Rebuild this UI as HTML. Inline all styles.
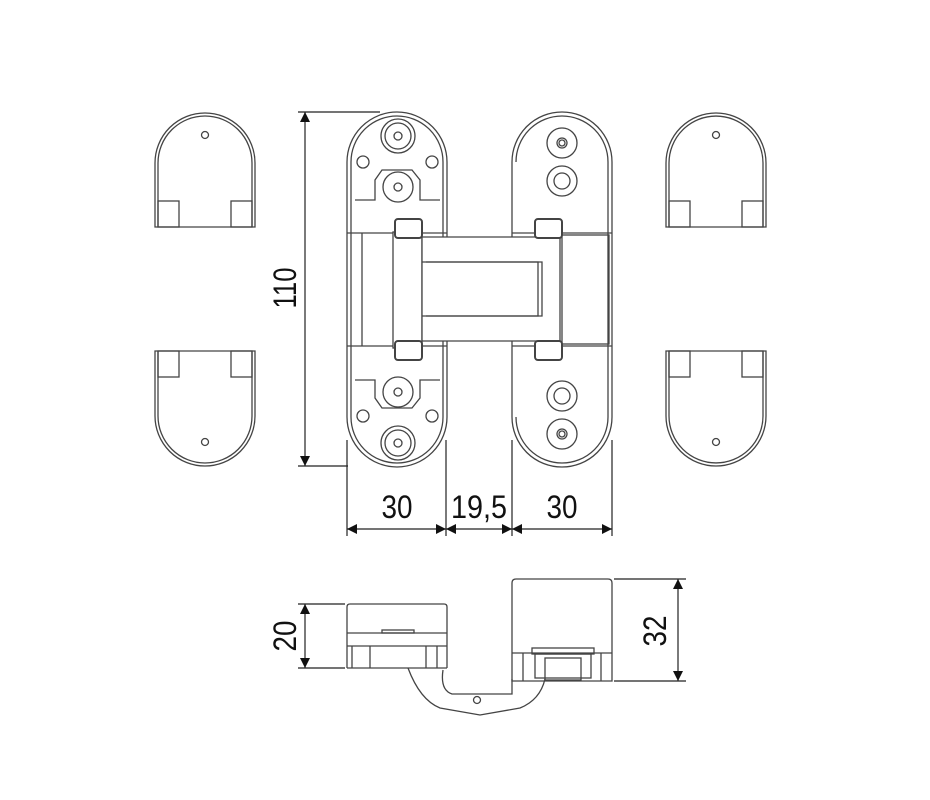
<!DOCTYPE html>
<html><head><meta charset="utf-8"><style>html,body{margin:0;padding:0;background:#fff}svg{display:block}</style></head>
<body>
<svg width="930" height="800" viewBox="0 0 930 800" xmlns="http://www.w3.org/2000/svg" font-family="Liberation Sans, sans-serif">
<defs>
<marker id="ar" viewBox="0 0 10 10" refX="10" refY="5" markerWidth="14" markerHeight="10" markerUnits="userSpaceOnUse" orient="auto-start-reverse"><path d="M0,0 L10,5 L0,10 z" fill="#111"/></marker>
</defs>
<g fill="none" stroke="#444" stroke-width="1.3">
<!-- caps left -->
<path d="M155,227 V163 A50,50 0 0 1 255,163 V227 Z"/>
<path d="M158,227 V163 A47,47 0 0 1 252,163 V227"/>
<rect x="158" y="201" width="21" height="26"/><rect x="231" y="201" width="21" height="26"/>
<circle cx="205" cy="135" r="3.5"/>
<path d="M155,351 V416 A50,50 0 0 0 255,416 V351 Z"/>
<path d="M158,351 V416 A47,47 0 0 0 252,416 V351"/>
<rect x="158" y="351" width="21" height="26"/><rect x="231" y="351" width="21" height="26"/>
<circle cx="205" cy="442" r="3.5"/>
<!-- caps right -->
<path d="M666,227 V163 A50,50 0 0 1 766,163 V227 Z"/>
<path d="M669,227 V163 A47,47 0 0 1 763,163 V227"/>
<rect x="669" y="201" width="21" height="26"/><rect x="742" y="201" width="21" height="26"/>
<circle cx="716" cy="135" r="3.5"/>
<path d="M666,351 V416 A50,50 0 0 0 766,416 V351 Z"/>
<path d="M669,351 V416 A47,47 0 0 0 763,416 V351"/>
<rect x="669" y="351" width="21" height="26"/><rect x="742" y="351" width="21" height="26"/>
<circle cx="716" cy="442" r="3.5"/>

<!-- left plate -->
<path d="M347,162 A50,50 0 0 1 447,162 V417 A50,50 0 0 1 347,417 Z"/>
<path d="M351,162 A46,46 0 0 1 443,162 V417 A46,46 0 0 1 351,417 Z"/>
<path d="M355,200 H375 V180 L382,170 H412 L420,180 V200 H440 M355,380 H375 V398 L382,408 H412 L420,398 V380 H440"/>
<line x1="362" y1="233" x2="362" y2="346"/>
<line x1="347" y1="233" x2="447" y2="233"/><line x1="347" y1="346" x2="447" y2="346"/>
<circle cx="398" cy="136" r="17"/><circle cx="398" cy="136" r="13"/><circle cx="398" cy="136" r="4"/>
<circle cx="398" cy="187" r="15"/><circle cx="398" cy="187" r="4"/>
<circle cx="398" cy="392" r="15"/><circle cx="398" cy="392" r="4"/>
<circle cx="398" cy="443" r="17"/><circle cx="398" cy="443" r="13"/><circle cx="398" cy="443" r="4"/>
<circle cx="363" cy="162" r="6"/><circle cx="432" cy="162" r="6"/>
<circle cx="363" cy="416" r="6"/><circle cx="432" cy="416" r="6"/>

<!-- right plate -->
<path d="M512,162 A50,50 0 0 1 612,162 V417 A50,50 0 0 1 512,417 Z"/>
<path d="M516,162 A46,46 0 0 1 608,162 V417 A46,46 0 0 1 516,417"/>
<line x1="512" y1="233" x2="612" y2="233"/><line x1="512" y1="346" x2="612" y2="346"/>
<rect x="562" y="235" width="47" height="109"/>
<circle cx="562" cy="143" r="15"/><circle cx="562" cy="143" r="5"/><circle cx="562" cy="143" r="3"/>
<circle cx="562" cy="181" r="15"/><circle cx="562" cy="181" r="8"/>
<circle cx="562" cy="396" r="15"/><circle cx="562" cy="396" r="8"/>
<circle cx="562" cy="434" r="15"/><circle cx="562" cy="434" r="5"/><circle cx="562" cy="434" r="3"/>

<!-- arm -->
<rect x="393" y="232" width="29" height="116" fill="#fff"/>
<path d="M422,237 H560 V341 H422 Z" fill="#fff"/>
<path d="M422,262 H542 V316 H422" />
<path d="M426,262 H538 V316 H426"/>
<rect x="395" y="219" width="27" height="19" rx="3" fill="#fff" stroke-width="2"/>
<rect x="395" y="341" width="27" height="19" rx="3" fill="#fff" stroke-width="2"/>
<rect x="535" y="219" width="27" height="19" rx="3" fill="#fff" stroke-width="2"/>
<rect x="535" y="341" width="27" height="19" rx="3" fill="#fff" stroke-width="2"/>

<!-- bottom view -->
<path d="M347,668 V607 Q347,604 350,604 H444 Q447,604 447,607 V668"/>
<line x1="347" y1="633" x2="447" y2="633"/><line x1="347" y1="646" x2="447" y2="646"/>
<rect x="382" y="630" width="32" height="3"/>
<line x1="352" y1="646" x2="352" y2="668"/><line x1="370" y1="646" x2="370" y2="668"/><line x1="426" y1="646" x2="426" y2="668"/><line x1="437" y1="646" x2="437" y2="668"/>
<line x1="347" y1="668" x2="447" y2="668"/>
<path d="M408,668 Q420,700 440,708 L480,715 L520,708 Q540,700 545,679"/>
<path d="M443,670 Q440,690 452,694 H512 V679"/>
<circle cx="477" cy="700" r="3.5"/>
<path d="M512,681 V583 Q512,579 516,579 H608 Q612,579 612,583 V681 Z"/>
<line x1="512" y1="653" x2="612" y2="653"/>
<rect x="532" y="648" width="62" height="6"/>
<rect x="535" y="654" width="56" height="24"/>
<rect x="545" y="658" width="36" height="22"/>
<line x1="523" y1="653" x2="523" y2="681"/><line x1="601" y1="653" x2="601" y2="681"/>
</g>

<!-- dimension lines -->
<g stroke="#222" stroke-width="1.2" fill="none">
<line x1="298" y1="112" x2="380" y2="112"/>
<line x1="298" y1="466" x2="348" y2="466"/>
<line x1="305" y1="112" x2="305" y2="466" marker-start="url(#ar)" marker-end="url(#ar)"/>
<line x1="347" y1="440" x2="347" y2="536"/>
<line x1="446" y1="440" x2="446" y2="536"/>
<line x1="512" y1="440" x2="512" y2="536"/>
<line x1="612" y1="440" x2="612" y2="536"/>
<line x1="347" y1="529" x2="446" y2="529" marker-start="url(#ar)" marker-end="url(#ar)"/>
<line x1="446" y1="529" x2="512" y2="529" marker-start="url(#ar)" marker-end="url(#ar)"/>
<line x1="512" y1="529" x2="612" y2="529" marker-start="url(#ar)" marker-end="url(#ar)"/>
<line x1="298" y1="604" x2="345" y2="604"/>
<line x1="298" y1="668" x2="345" y2="668"/>
<line x1="305" y1="604" x2="305" y2="668" marker-start="url(#ar)" marker-end="url(#ar)"/>
<line x1="614" y1="579" x2="686" y2="579"/>
<line x1="614" y1="681" x2="686" y2="681"/>
<line x1="678" y1="579" x2="678" y2="681" marker-start="url(#ar)" marker-end="url(#ar)"/>
</g>
<g fill="#111" font-size="32">
<text x="397" y="518" text-anchor="middle" textLength="31" lengthAdjust="spacingAndGlyphs">30</text>
<text x="479" y="518" text-anchor="middle" textLength="56" lengthAdjust="spacingAndGlyphs">19,5</text>
<text x="562" y="518" text-anchor="middle" textLength="31" lengthAdjust="spacingAndGlyphs">30</text>
<text transform="translate(296,288) rotate(-90)" text-anchor="middle" textLength="41" lengthAdjust="spacingAndGlyphs">110</text>
<text transform="translate(296,636) rotate(-90)" text-anchor="middle" textLength="31" lengthAdjust="spacingAndGlyphs">20</text>
<text transform="translate(666,631) rotate(-90)" text-anchor="middle" textLength="31" lengthAdjust="spacingAndGlyphs">32</text>
</g>
</svg>
</body></html>
